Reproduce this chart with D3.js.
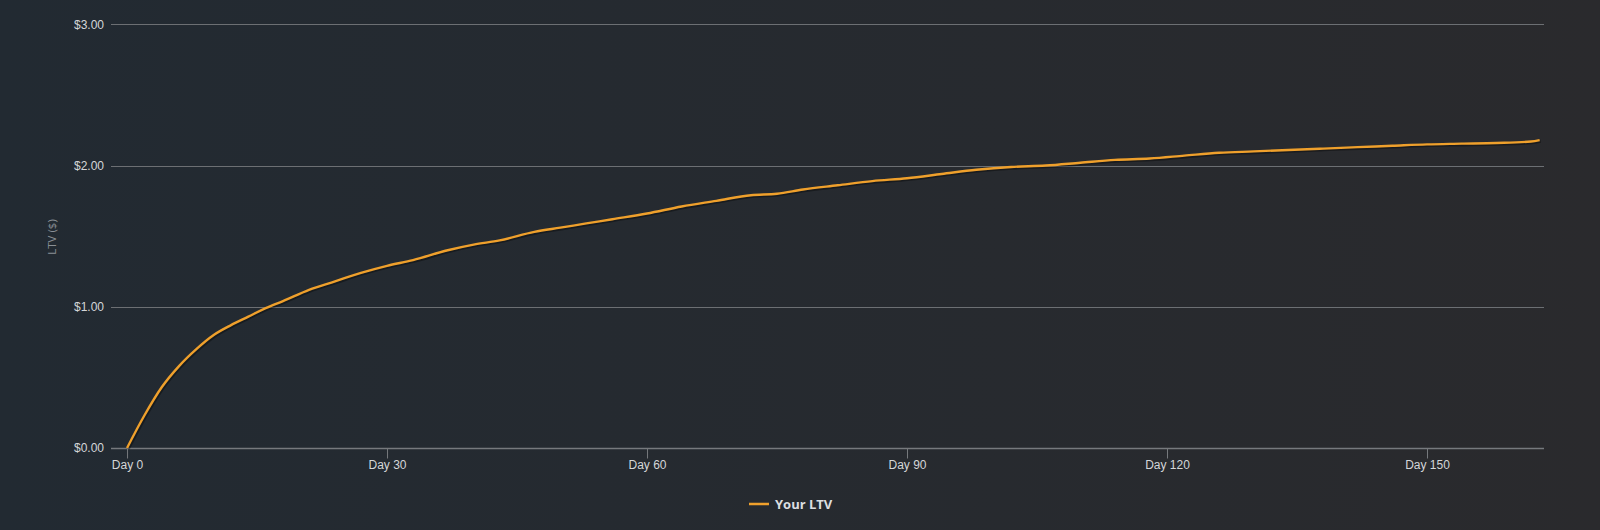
<!DOCTYPE html>
<html>
<head>
<meta charset="utf-8">
<script src="https://cdn.jsdelivr.net/npm/d3@7"></script>
<style>
  html, body { margin: 0; padding: 0; }
  body { width: 1600px; height: 530px; overflow: hidden; }
  svg { display: block; font-family: "Open Sans", Lato, sans-serif; }
</style>
</head>
<body>
<div id="chart"></div>
<script>
// LTV readings (day, dollars)
var days = [0, 2, 4, 6, 8, 10, 12, 14, 16, 18, 21, 24, 27, 30, 33, 37, 40, 43, 47, 50, 53, 56, 60, 64, 68, 72, 75, 78, 82, 86, 90, 94, 98, 102, 106, 110, 114, 118, 122, 126, 130, 134, 138, 142, 146, 150, 154, 158, 162, 163];
var ltv = [0, 0.23, 0.43, 0.58, 0.70, 0.80, 0.87, 0.93, 0.99, 1.04, 1.12, 1.18, 1.24, 1.29, 1.33, 1.40, 1.44, 1.47, 1.53, 1.56, 1.59, 1.62, 1.66, 1.71, 1.75, 1.79, 1.80, 1.83, 1.86, 1.89, 1.91, 1.94, 1.97, 1.99, 2.00, 2.02, 2.04, 2.05, 2.07, 2.09, 2.10, 2.11, 2.12, 2.13, 2.14, 2.15, 2.155, 2.16, 2.17, 2.18];
var yTicks = [0, 1, 2, 3];
var xTicks = [0, 30, 60, 90, 120, 150];
var seriesName = "Your LTV";
var yTitle = "LTV ($)";

var svgWidth = 1600;
var svgHeight = 530;

var svg = d3.select("#chart")
  .append("svg")
  .attr("width", svgWidth)
  .attr("height", svgHeight);

// background gradient, bluish on the left, greyer on the right
var grad = svg.append("defs").append("linearGradient")
  .attr("id", "bg")
  .attr("x1", "0").attr("y1", "0").attr("x2", "1").attr("y2", "0");
grad.append("stop").attr("offset", "0").attr("stop-color", "#222a32");
grad.append("stop").attr("offset", "1").attr("stop-color", "#2a2a2d");

svg.append("rect")
  .attr("width", svgWidth)
  .attr("height", svgHeight)
  .attr("fill", "url(#bg)");

var plotLeft = 111, plotRight = 1544, plotTop = 24.3, plotBottom = 448;

var x = d3.scaleLinear()
  .domain([-1.85, 163.5])
  .range([plotLeft, plotRight]);

var y = d3.scaleLinear()
  .domain([0, 3])
  .range([plotBottom, plotTop]);

// gridlines
svg.append("g")
  .selectAll("line")
  .data(yTicks.filter(d => d > 0))
  .enter()
  .append("line")
  .attr("x1", plotLeft)
  .attr("x2", plotRight)
  .attr("y1", d => Math.round(y(d)) + 0.5)
  .attr("y2", d => Math.round(y(d)) + 0.5)
  .attr("stroke", "#6c6f73")
  .attr("stroke-width", 1);

// y axis labels
var leftAxis = d3.axisLeft(y)
  .tickValues(yTicks)
  .tickSize(0)
  .tickPadding(7)
  .tickFormat(d => "$" + d3.format(".2f")(d));

var yg = svg.append("g")
  .attr("transform", "translate(" + plotLeft + ",0)")
  .call(leftAxis);
yg.select(".domain").remove();
yg.selectAll("text")
  .attr("fill", "#d4d6d8")
  .attr("font-size", "12px");

// x axis
var bottomAxis = d3.axisBottom(x)
  .tickValues(xTicks)
  .tickSize(10)
  .tickPadding(2)
  .tickFormat(d => "Day " + d);

var xg = svg.append("g")
  .attr("transform", "translate(0," + (Math.round(plotBottom) + 0.5) + ")")
  .call(bottomAxis);
xg.select(".domain")
  .attr("d", "M" + plotLeft + ",0H" + plotRight)
  .attr("stroke", "#76797d")
  .attr("stroke-width", 1.5);
xg.selectAll(".tick line").attr("stroke", "#76797d");
xg.selectAll("text")
  .attr("fill", "#d4d6d8")
  .attr("font-size", "12px");

// y axis title
svg.append("text")
  .attr("transform", "translate(56,237) rotate(-90)")
  .attr("text-anchor", "middle")
  .attr("fill", "#8a8f95")
  .attr("font-size", "11.5px")
  .text(yTitle);

var line = d3.line()
  .x((d, i) => x(days[i]))
  .y(d => y(d))
  .curve(d3.curveMonotoneX);

// shadow
svg.append("path")
  .datum(ltv)
  .attr("d", line)
  .attr("fill", "none")
  .attr("stroke", "#000")
  .attr("stroke-opacity", 0.35)
  .attr("stroke-width", 3.5)
  .attr("transform", "translate(1,1)");

svg.append("path")
  .datum(ltv)
  .attr("d", line)
  .attr("fill", "none")
  .attr("stroke", "#efa02c")
  .attr("stroke-width", 2.4)
  .attr("stroke-linejoin", "round");

// legend
var legend = svg.append("g").attr("transform", "translate(749,504)");
legend.append("line")
  .attr("x1", 0).attr("x2", 20)
  .attr("y1", 0).attr("y2", 0)
  .attr("stroke", "#efa02c")
  .attr("stroke-width", 2.5);
legend.append("text")
  .attr("x", 26)
  .attr("y", 5)
  .attr("fill", "#dcdee0")
  .attr("font-size", "13px")
  .attr("font-weight", "bold")
  .text(seriesName);
</script>
</body>
</html>
